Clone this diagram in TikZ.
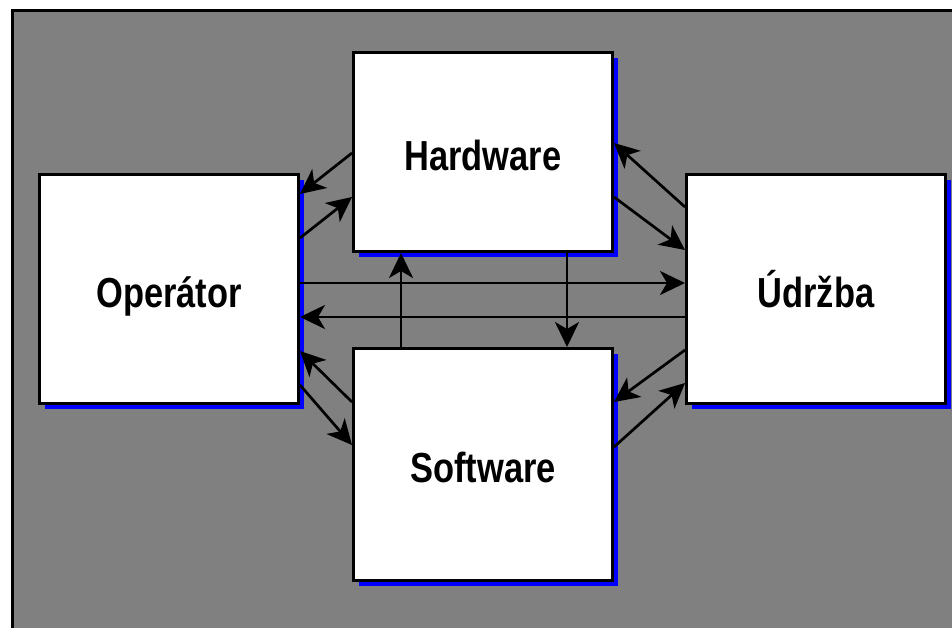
\documentclass[tikz,border=0pt]{standalone}
\usepackage{fontspec}
\setmainfont{Liberation Sans}
\newfontfamily\labelfont[FakeStretch=0.82]{Liberation Sans}
\usetikzlibrary{arrows.meta,calc,shadows}
\definecolor{panelgray}{RGB}{128,128,128}
\definecolor{shadowblue}{RGB}{0,0,255}
\tikzset{
  unit/.style={draw=black, line width=3pt, fill=white, inner sep=0pt,
    minimum width=259pt, text height=36pt, text depth=0pt,
    font=\labelfont\fontsize{42}{48}\selectfont\bfseries,
    general shadow={fill=shadowblue, shadow xshift=5.5pt, shadow yshift=-5.5pt}},
  conn/.style={line width=2.7pt, draw=black,
    -{Stealth[length=25pt,width=24pt,inset=7pt]}}
}
\begin{document}
\begin{tikzpicture}[x=1pt,y=-1pt]
\useasboundingbox (0,0) rectangle (952,627);
\fill[white] (0,0) rectangle (952,627);
\clip (0,0) rectangle (952,627);
% grey panel, its frame runs off the right and bottom edges
\draw[line width=3pt, fill=panelgray] (12.5,10.5) rectangle (975,650);

% the four parts of the system
\node[unit, minimum height=229pt] (op) at (169,289)   {Operátor};
\node[unit, minimum height=199pt] (hw) at (483,152)   {Hardware};
\node[unit, minimum height=232pt] (sw) at (483,464.5) {Software};
\node[unit, minimum height=229pt] (ud) at (816,289)   {Údržba};

% operator <-> hardware
\draw[conn] ($(hw.west)+(0,1)$)   -- ($(op.east)+(0,-95)$);
\draw[conn] ($(op.east)+(0,-51)$) -- ($(hw.west)+(0,45)$);
% operator <-> software
\draw[conn] ($(sw.west)+(0,-62.5)$) -- ($(op.east)+(0,62)$);
\draw[conn] ($(op.east)+(0,96)$)    -- ($(sw.west)+(0,-19.5)$);
% maintenance <-> hardware
\draw[conn] ($(ud.west)+(0,-82)$) -- ($(hw.east)+(0,-9)$);
\draw[conn] ($(hw.east)+(0,45)$)  -- ($(ud.west)+(0,-39)$);
% maintenance <-> software
\draw[conn] ($(ud.west)+(0,61)$)    -- ($(sw.east)+(0,-62.5)$);
\draw[conn] ($(sw.east)+(0,-17.5)$) -- ($(ud.west)+(0,94)$);
% operator <-> maintenance
\draw[conn] ($(op.east)+(0,-6)$) -- ($(ud.west)+(0,-6)$);
\draw[conn] ($(ud.west)+(0,28)$) -- ($(op.east)+(0,28)$);
% software <-> hardware
\draw[conn] ($(sw.north)+(-82,0)$) -- ($(hw.south)+(-82,0)$);
\draw[conn] ($(hw.south)+(84,0)$)  -- ($(sw.north)+(84,0)$);
\end{tikzpicture}
\end{document}
